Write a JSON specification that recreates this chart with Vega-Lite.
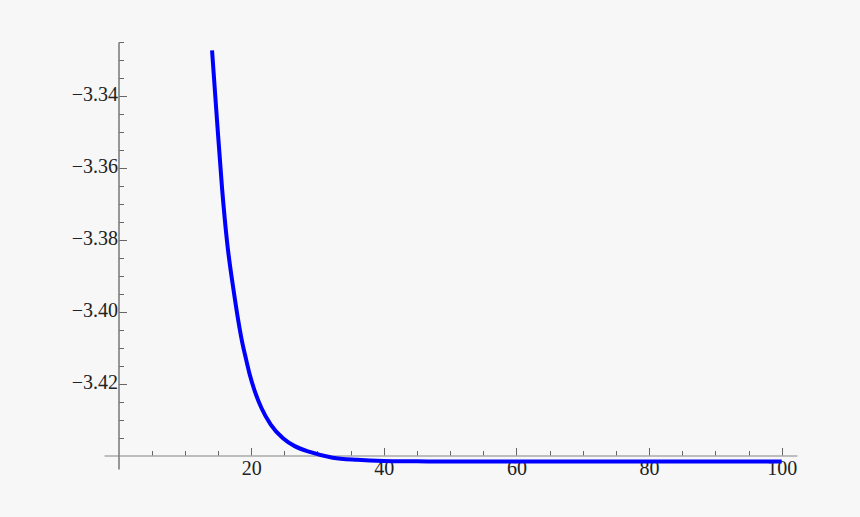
{
  "$schema": "https://vega.github.io/schema/vega-lite/v6.json",
  "width": 693,
  "height": 427,
  "autosize": "none",
  "padding": {"left": 104, "top": 42, "right": 63, "bottom": 48},
  "background": "#f7f7f7",
  "config": {"view": {"stroke": null}},
  "data": {
    "values": [
      {"n": 14.1, "value": -3.3273},
      {"n": 14.81, "value": -3.3457},
      {"n": 15.61, "value": -3.3656},
      {"n": 16.36, "value": -3.3804},
      {"n": 17.37, "value": -3.3942},
      {"n": 18.62, "value": -3.4081},
      {"n": 19.18, "value": -3.4127},
      {"n": 19.78, "value": -3.4173},
      {"n": 20.54, "value": -3.4219},
      {"n": 21.55, "value": -3.4266},
      {"n": 22.95, "value": -3.4312},
      {"n": 24.8, "value": -3.435},
      {"n": 26.57, "value": -3.4372},
      {"n": 28.83, "value": -3.4388},
      {"n": 32.3, "value": -3.4404},
      {"n": 36, "value": -3.441},
      {"n": 40, "value": -3.4413},
      {"n": 45, "value": -3.4414},
      {"n": 50, "value": -3.4415},
      {"n": 100, "value": -3.4415}
    ]
  },
  "mark": {"type": "line", "color": "#0000ff", "strokeWidth": 4, "interpolate": "monotone"},
  "encoding": {
    "x": {
      "field": "n",
      "type": "quantitative",
      "scale": {"domain": [-2.19, 102.3], "nice": false, "zero": false},
      "axis": {
        "orient": "bottom",
        "offset": -13.5,
        "values": [5, 10, 15, 20, 25, 30, 35, 40, 45, 50, 55, 60, 65, 70, 75, 80, 85, 90, 95, 100],
        "title": null,
        "grid": false,
        "domainColor": "#aaaaaa",
        "domainWidth": 1.5,
        "tickColor": "#666666",
        "tickSize": {"condition": {"test": "datum.value % 20 === 0", "value": -8}, "value": -5},
        "labelExpr": "datum.value % 20 === 0 ? datum.label : ''",
        "labelFont": "Liberation Serif",
        "labelFontSize": 20,
        "labelColor": "#222222",
        "labelPadding": 11,
        "labelFlush": false,
        "labelOverlap": false
      }
    },
    "y": {
      "field": "value",
      "type": "quantitative",
      "scale": {"domain": [-3.44355, -3.325], "nice": false, "zero": false},
      "axis": {
        "orient": "left",
        "offset": -14.5,
        "values": [-3.435, -3.43, -3.425, -3.42, -3.415, -3.41, -3.405, -3.4, -3.395, -3.39, -3.385, -3.38, -3.375, -3.37, -3.365, -3.36, -3.355, -3.35, -3.345, -3.34, -3.335, -3.33, -3.325],
        "format": ".2f",
        "title": null,
        "grid": false,
        "domainColor": "#777777",
        "domainWidth": 1.5,
        "tickColor": "#666666",
        "tickSize": {"condition": {"test": "round(datum.value * 1000) % 20 === 0", "value": -8}, "value": -5},
        "labelExpr": "round(datum.value * 1000) % 20 === 0 ? datum.label : ''",
        "labelFont": "Liberation Serif",
        "labelFontSize": 20,
        "labelColor": "#222222",
        "labelPadding": 9,
        "labelOffset": -2,
        "labelFlush": false,
        "labelOverlap": false
      }
    }
  }
}
